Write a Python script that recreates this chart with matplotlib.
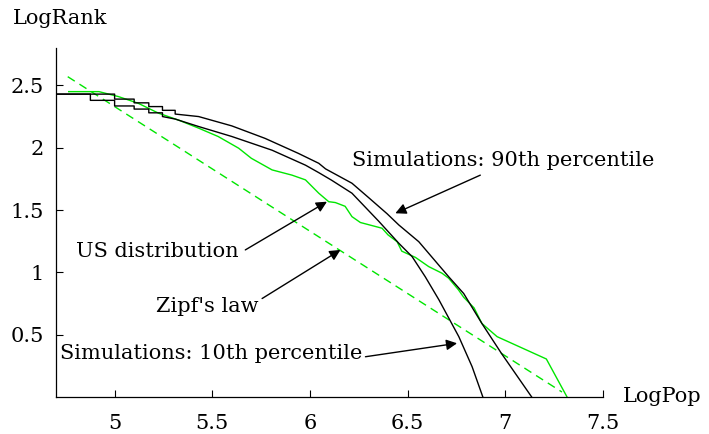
import matplotlib
matplotlib.use('Agg')
import matplotlib.pyplot as plt

# simulated rank-size curves
sim90_x = [4.70, 5.00, 5.00, 5.10, 5.10, 5.175, 5.175, 5.245, 5.245, 5.31, 5.31,
           5.43, 5.60, 5.77, 5.94, 6.045, 6.08, 6.215, 6.30, 6.395, 6.455, 6.557,
           6.71, 6.787, 6.88, 6.98, 7.135]
sim90_y = [2.43, 2.43, 2.39, 2.39, 2.36, 2.36, 2.33, 2.33, 2.30, 2.30, 2.27,
           2.25, 2.175, 2.075, 1.955, 1.875, 1.83, 1.715, 1.60, 1.47, 1.38, 1.246,
           0.965, 0.83, 0.59, 0.35, 0.0]

sim10_x = [4.70, 4.876, 4.876, 5.00, 5.00, 5.10, 5.10, 5.175, 5.175, 5.245, 5.245,
           5.31, 5.43, 5.60, 5.806, 5.977, 6.045, 6.11, 6.215, 6.352, 6.455, 6.523,
           6.59, 6.66, 6.762, 6.83, 6.885]
sim10_y = [2.43, 2.43, 2.38, 2.38, 2.335, 2.335, 2.31, 2.31, 2.28, 2.28, 2.25,
           2.23, 2.17, 2.09, 1.98, 1.86, 1.80, 1.74, 1.635, 1.41, 1.233, 1.126,
           0.965, 0.78, 0.484, 0.243, 0.0]

us_x = [4.765, 4.92, 5.02, 5.12, 5.225, 5.33, 5.43, 5.53, 5.635, 5.70, 5.806,
        5.908, 5.977, 6.045, 6.096, 6.13, 6.18, 6.215, 6.258, 6.369, 6.40, 6.446,
        6.47, 6.54, 6.608, 6.676, 6.71, 6.76, 6.787, 6.84, 6.88, 6.958, 7.21, 7.316]
us_y = [2.45, 2.45, 2.41, 2.357, 2.277, 2.22, 2.157, 2.09, 1.996, 1.915, 1.822,
        1.78, 1.742, 1.635, 1.567, 1.56, 1.53, 1.447, 1.40, 1.354, 1.30, 1.246,
        1.17, 1.12, 1.046, 0.993, 0.953, 0.86, 0.80, 0.715, 0.59, 0.484, 0.305, 0.0]

zipf_x = [4.76, 7.29]
zipf_y = [2.57, 0.04]

xticks = [5, 5.5, 6, 6.5, 7, 7.5]
xtick_labels = ['5', '5.5', '6', '6.5', '7', '7.5']
yticks = [0.5, 1, 1.5, 2, 2.5]
ytick_labels = ['0.5', '1', '1.5', '2', '2.5']

GREEN = '#00e600'
FONT = 'DejaVu Serif'
FS = 15

plt.rcParams['font.family'] = FONT

fig = plt.figure(figsize=(7.09, 4.34), dpi=100)
ax = fig.add_axes([56 / 709, 37 / 434, 547 / 709, 349 / 434])

ax.plot(zipf_x, zipf_y, color=GREEN, lw=1.0, dashes=(6, 4))
ax.plot(us_x, us_y, color=GREEN, lw=1.0)
ax.plot(sim90_x, sim90_y, color='black', lw=1.0)
ax.plot(sim10_x, sim10_y, color='black', lw=1.0)

ax.set_xlim(4.7, 7.5)
ax.set_ylim(0, 2.8)
ax.set_xticks(xticks)
ax.set_xticklabels(xtick_labels)
ax.set_yticks(yticks)
ax.set_yticklabels(ytick_labels)
ax.tick_params(direction='in', length=5, width=0.8, labelsize=FS, pad=9)
ax.tick_params(axis='x', pad=12)
for s in ['top', 'right']:
    ax.spines[s].set_visible(False)
for s in ['left', 'bottom']:
    ax.spines[s].set_linewidth(0.9)

fig.text(13 / 709, 1 - 19 / 434, 'LogRank', fontsize=FS, va='center', ha='left')
fig.text(623 / 709, 1 - 397 / 434, 'LogPop', fontsize=FS, va='center', ha='left')

arrow = dict(arrowstyle='-|>', color='black', lw=1.0, mutation_scale=16,
             shrinkA=0, shrinkB=0)

ax.text(6.214, 1.90, 'Simulations: 90th percentile', fontsize=FS, va='center', ha='left')
ax.annotate('', xy=(6.437, 1.474), xytext=(6.872, 1.78), arrowprops=arrow)

ax.text(4.80, 1.166, 'US distribution', fontsize=FS, va='center', ha='left')
ax.annotate('', xy=(6.087, 1.567), xytext=(5.669, 1.18), arrowprops=arrow)

ax.text(5.475, 0.73, "Zipf's law", fontsize=FS, va='center', ha='center')
ax.annotate('', xy=(6.156, 1.18), xytext=(5.755, 0.79), arrowprops=arrow)

ax.text(4.722, 0.345, 'Simulations: 10th percentile', fontsize=FS, va='center', ha='left')
ax.annotate('', xy=(6.753, 0.431), xytext=(6.284, 0.323), arrowprops=arrow)

fig.savefig('out.png', dpi=100)
